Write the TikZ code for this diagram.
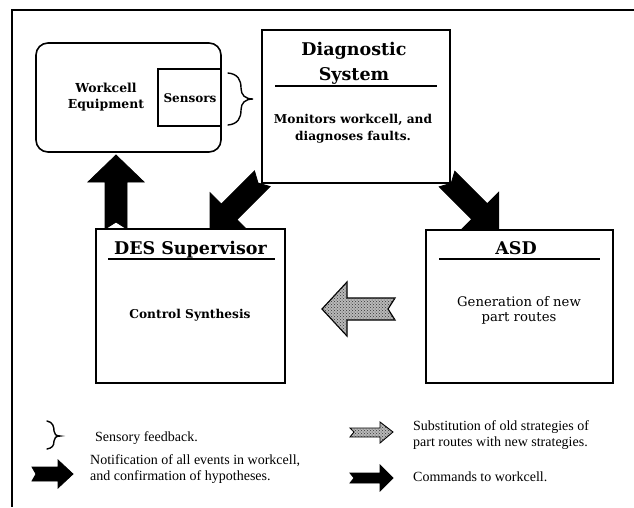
\documentclass[tikz,border=0pt]{standalone}
\usepackage{fontspec}
\newfontfamily\legfont{Liberation Serif}
\newfontfamily\mainfont{DejaVu Serif}
\usetikzlibrary{patterns}
\begin{document}
\begin{tikzpicture}[x=1pt,y=-1pt,
  box/.style={draw, line width=1.6pt, fill=white, inner sep=0pt},
  fat/.style={fill=black, draw=black, line width=0.8pt, line join=miter},
  shaded/.style={draw=black, line width=1.2pt, line join=miter, fill=gray!55, postaction={pattern=crosshatch dots, pattern color=black!80}},
  ttlA/.style={font=\mainfont\fontsize{17.5}{25}\selectfont\bfseries, align=center, inner sep=0pt},
  ttl/.style={font=\mainfont\fontsize{17.5}{20}\selectfont\bfseries, align=center, inner sep=0pt},
  txt/.style={font=\mainfont\fontsize{12.2}{16.5}\selectfont\bfseries, align=center, inner sep=0pt},
  leg/.style={font=\legfont\fontsize{14}{15.5}\selectfont, align=left, anchor=west, inner sep=0pt},
  brc/.style={draw, line width=1.4pt, line cap=round}]
\useasboundingbox (0,0) rectangle (634,507);
\fill[white] (0,0) rectangle (634,507);
% frame (only top and left visible)
\coordinate (frTR) at (634,10);
\coordinate (frTL) at (12,10);
\coordinate (frBL) at (12,507);
\draw[line width=1.8pt] (frTR) -- (frTL) -- (frBL);

% fat arrows (drawn before boxes)
\draw[fat] (116,155) -- (144,182) -- (127,182) -- (127,229) -- (116,222) -- (105,229) -- (105,182) -- (88,182) -- cycle;
\draw[fat] (210,231) -- (248.2,231.0) -- (236.9,219.7) -- (270.0,186.5) -- (258,183) -- (254.5,171.0) -- (221.3,204.1) -- (210.0,192.8) -- cycle;
\draw[fat] (498.6,230.6) -- (498.6,192.4) -- (487.3,203.7) -- (454.8,171.2) -- (451.2,183.2) -- (439.2,186.8) -- (471.7,219.3) -- (460.4,230.6) -- cycle;
\draw[shaded] (322,309) -- (347,282) -- (347,298) -- (395,298) -- (388,309) -- (395,320) -- (347,320) -- (347,336) -- cycle;

% boxes
\node[box, rounded corners=12pt, minimum width=185pt, minimum height=109pt] (wc) at (128.5,97.5) {};
\node[box, minimum width=63pt, minimum height=57pt] (sens) at (189.5,97.5) {};
\node[box, minimum width=188pt, minimum height=153pt] (diag) at (356,106.5) {};
\node[box, minimum width=189pt, minimum height=154pt] (des) at (190.5,306) {};
\node[box, minimum width=187pt, minimum height=153pt] (asd) at (519.5,306.5) {};

% texts
\node[font=\mainfont\fontsize{12.4}{16}\selectfont\bfseries, align=center, inner sep=0pt] (wcT) at (106,97) {Workcell\\Equipment};
\node[font=\mainfont\fontsize{12}{14}\selectfont\bfseries, inner sep=0pt] (sensT) at (190,98) {Sensors};
\node[ttlA] (diagT) at (354,63.5) {Diagnostic\\System};
\draw[line width=1.4pt] (275,86) -- (437,86);
\node[txt] (diagB) at (353,128.5) {Monitors workcell, and\\diagnoses faults.};
\node[ttl] (desT) at (190.5,250) {DES Supervisor};
\draw[line width=1.4pt] (108,259) -- (275,259);
\node[txt] (desB) at (190,315) {Control Synthesis};
\node[ttl] (asdT) at (516,248) {ASD};
\draw[line width=1.4pt] (439,259) -- (600,259);
\node[font=\mainfont\fontsize{13.2}{15}\selectfont, align=center, inner sep=0pt] (asdB) at (519,310) {Generation of new\\part routes};

% sensory brace
\draw[brc] (228,73) .. controls (238,74) and (241,80) .. (241,88) .. controls (241,95) and (245,99) .. (253,99) .. controls (245,99) and (241,103) .. (241,110) .. controls (241,118) and (238,124) .. (228,125);

% legend
\draw[brc] (47,421) .. controls (53,422) and (54,427) .. (54,431) .. controls (54,434) and (56,436) .. (60,436) .. controls (56,436) and (54,438) .. (54,441) .. controls (54,446) and (52,448) .. (47,449);
\node[leg] (l1) at (95,438) {Sensory feedback.};
\draw[fat] (73,474) -- (58,460) -- (58,467) -- (32,467) -- (36,474) -- (32,481) -- (58,481) -- (58,488) -- cycle;
\node[leg] (l2) at (90,469) {Notification of all events in workcell,\\and confirmation of hypotheses.};
\draw[shaded, line width=0.9pt] (393,432) -- (380,422) -- (380,428) -- (350,428) -- (354,432) -- (350,437) -- (380,437) -- (380,443) -- cycle;
\node[leg] (l3) at (413,435) {Substitution of old strategies of\\part routes with new strategies.};
\draw[fat] (393,478) -- (380,465) -- (380,473) -- (350,473) -- (354,478) -- (350,483) -- (380,483) -- (380,491) -- cycle;
\node[leg] (l4) at (413,477) {Commands to workcell.};
\end{tikzpicture}
\end{document}
